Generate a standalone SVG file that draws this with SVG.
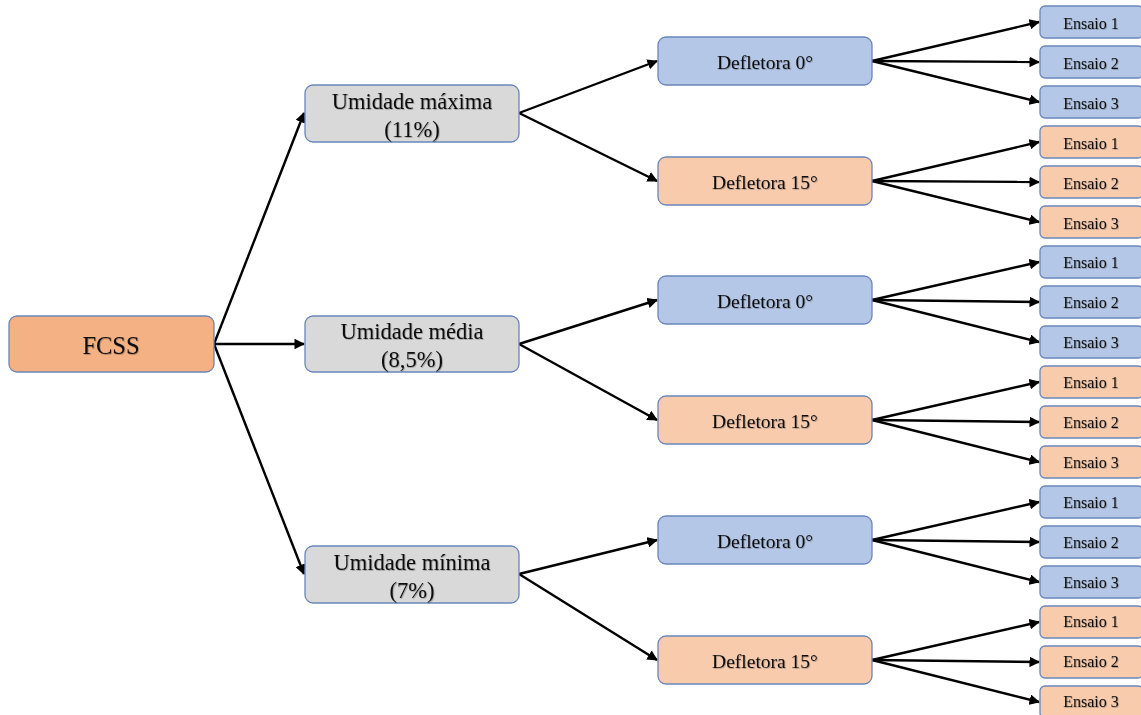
<svg xmlns="http://www.w3.org/2000/svg" width="1141" height="715" viewBox="0 0 1141 715">
<defs>
<style>
.box{stroke:#6A86BA;stroke-width:1.3}
.root{fill:#F4B183}
.hum{fill:#D9D9D9}
.d0{fill:#B4C7E7}
.d15{fill:#F8CBAD}
text{font-family:"Liberation Serif","Times New Roman",serif;fill:#111;text-anchor:middle;dominant-baseline:central;filter:url(#sh)}
.t1{font-size:24.5px}
.t2{font-size:22.5px}
.t3{font-size:19.5px}
.t4{font-size:16px}
#connectors line{stroke:#000;stroke-width:2.4;marker-end:url(#ah)}
</style>
<filter id="sh" x="-10%" y="-30%" width="130%" height="160%">
<feDropShadow dx="0.8" dy="0.8" stdDeviation="0.7" flood-color="#000" flood-opacity="0.3"/>
</filter>
<marker id="ah" viewBox="0 0 10 10" refX="9" refY="5" markerWidth="4.4" markerHeight="4.4" orient="auto" markerUnits="strokeWidth">
<path d="M0,0 L10,5 L0,10 z" fill="#000"/>
</marker>
</defs>
<g id="connectors">
<line x1="214" y1="344" x2="304" y2="113"/>
<line x1="214" y1="344" x2="304" y2="344"/>
<line x1="214" y1="344" x2="304" y2="574"/>
<line x1="519" y1="113" x2="657" y2="61"/>
<line x1="519" y1="113" x2="657" y2="181"/>
<line x1="519" y1="344" x2="657" y2="300"/>
<line x1="519" y1="344" x2="657" y2="420"/>
<line x1="519" y1="574" x2="657" y2="540"/>
<line x1="519" y1="574" x2="657" y2="660"/>
<line x1="872" y1="61" x2="1039" y2="22"/>
<line x1="872" y1="61" x2="1039" y2="62"/>
<line x1="872" y1="61" x2="1039" y2="102"/>
<line x1="872" y1="181" x2="1039" y2="142"/>
<line x1="872" y1="181" x2="1039" y2="182"/>
<line x1="872" y1="181" x2="1039" y2="222"/>
<line x1="872" y1="300" x2="1039" y2="262"/>
<line x1="872" y1="300" x2="1039" y2="302"/>
<line x1="872" y1="300" x2="1039" y2="342"/>
<line x1="872" y1="420" x2="1039" y2="382"/>
<line x1="872" y1="420" x2="1039" y2="422"/>
<line x1="872" y1="420" x2="1039" y2="462"/>
<line x1="872" y1="540" x2="1039" y2="502"/>
<line x1="872" y1="540" x2="1039" y2="542"/>
<line x1="872" y1="540" x2="1039" y2="582"/>
<line x1="872" y1="660" x2="1039" y2="622"/>
<line x1="872" y1="660" x2="1039" y2="662"/>
<line x1="872" y1="660" x2="1039" y2="702"/>
</g>
<g id="fcss"><rect class="box root" x="9" y="316" width="205" height="56" rx="8"/><text class="t1" x="111" y="345">FCSS</text></g>
<g id="umax"><rect class="box hum" x="305" y="85" width="214" height="57" rx="8"/><text class="t2" x="412" y="101">Umidade máxima</text><text class="t2" x="412" y="129">(11%)</text></g>
<g id="umed"><rect class="box hum" x="305" y="316" width="214" height="56" rx="8"/><text class="t2" x="412" y="331">Umidade média</text><text class="t2" x="412" y="359">(8,5%)</text></g>
<g id="umin"><rect class="box hum" x="305" y="546" width="214" height="57" rx="8"/><text class="t2" x="412" y="562">Umidade mínima</text><text class="t2" x="412" y="590">(7%)</text></g>
<g id="d0a"><rect class="box d0" x="658" y="37" width="214" height="48" rx="8"/><text class="t3" x="765" y="62">Defletora 0°</text></g>
<g id="d15a"><rect class="box d15" x="658" y="157" width="214" height="48" rx="8"/><text class="t3" x="765" y="182">Defletora 15°</text></g>
<g id="d0b"><rect class="box d0" x="658" y="276" width="214" height="48" rx="8"/><text class="t3" x="765" y="301">Defletora 0°</text></g>
<g id="d15b"><rect class="box d15" x="658" y="396" width="214" height="48" rx="8"/><text class="t3" x="765" y="421">Defletora 15°</text></g>
<g id="d0c"><rect class="box d0" x="658" y="516" width="214" height="48" rx="8"/><text class="t3" x="765" y="541">Defletora 0°</text></g>
<g id="d15c"><rect class="box d15" x="658" y="636" width="214" height="48" rx="8"/><text class="t3" x="765" y="661">Defletora 15°</text></g>
<g id="e1"><rect class="box d0" x="1040" y="6" width="103" height="32" rx="5"/><text class="t4" x="1091" y="23">Ensaio 1</text></g>
<g id="e2"><rect class="box d0" x="1040" y="46" width="103" height="32" rx="5"/><text class="t4" x="1091" y="63">Ensaio 2</text></g>
<g id="e3"><rect class="box d0" x="1040" y="86" width="103" height="32" rx="5"/><text class="t4" x="1091" y="103">Ensaio 3</text></g>
<g id="e4"><rect class="box d15" x="1040" y="126" width="103" height="32" rx="5"/><text class="t4" x="1091" y="143">Ensaio 1</text></g>
<g id="e5"><rect class="box d15" x="1040" y="166" width="103" height="32" rx="5"/><text class="t4" x="1091" y="183">Ensaio 2</text></g>
<g id="e6"><rect class="box d15" x="1040" y="206" width="103" height="32" rx="5"/><text class="t4" x="1091" y="223">Ensaio 3</text></g>
<g id="e7"><rect class="box d0" x="1040" y="246" width="103" height="32" rx="5"/><text class="t4" x="1091" y="262">Ensaio 1</text></g>
<g id="e8"><rect class="box d0" x="1040" y="286" width="103" height="32" rx="5"/><text class="t4" x="1091" y="302">Ensaio 2</text></g>
<g id="e9"><rect class="box d0" x="1040" y="326" width="103" height="32" rx="5"/><text class="t4" x="1091" y="342">Ensaio 3</text></g>
<g id="e10"><rect class="box d15" x="1040" y="366" width="103" height="32" rx="5"/><text class="t4" x="1091" y="382">Ensaio 1</text></g>
<g id="e11"><rect class="box d15" x="1040" y="406" width="103" height="32" rx="5"/><text class="t4" x="1091" y="422">Ensaio 2</text></g>
<g id="e12"><rect class="box d15" x="1040" y="446" width="103" height="32" rx="5"/><text class="t4" x="1091" y="462">Ensaio 3</text></g>
<g id="e13"><rect class="box d0" x="1040" y="486" width="103" height="32" rx="5"/><text class="t4" x="1091" y="502">Ensaio 1</text></g>
<g id="e14"><rect class="box d0" x="1040" y="526" width="103" height="32" rx="5"/><text class="t4" x="1091" y="542">Ensaio 2</text></g>
<g id="e15"><rect class="box d0" x="1040" y="566" width="103" height="32" rx="5"/><text class="t4" x="1091" y="582">Ensaio 3</text></g>
<g id="e16"><rect class="box d15" x="1040" y="606" width="103" height="32" rx="5"/><text class="t4" x="1091" y="621">Ensaio 1</text></g>
<g id="e17"><rect class="box d15" x="1040" y="646" width="103" height="32" rx="5"/><text class="t4" x="1091" y="661">Ensaio 2</text></g>
<g id="e18"><rect class="box d15" x="1040" y="686" width="103" height="32" rx="5"/><text class="t4" x="1091" y="701">Ensaio 3</text></g>
</svg>
